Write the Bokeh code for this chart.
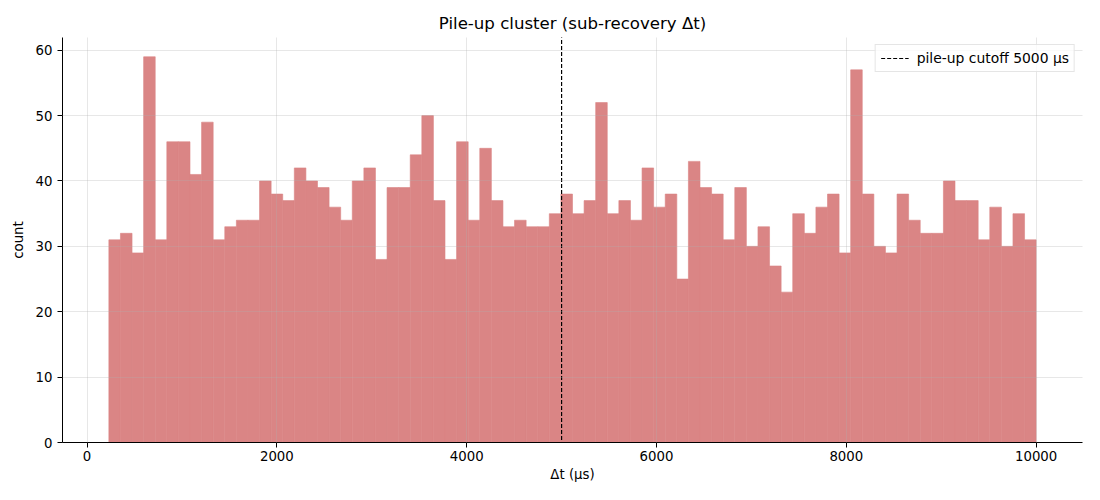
import numpy as np
from bokeh.plotting import figure
from bokeh.models import Range1d, Legend, LegendItem, FixedTicker
from bokeh.embed import file_html
from bokeh.resources import INLINE

# ---- data ----
bin_start = 230.0
bin_end = 10000.0
counts = [31, 32, 29, 59, 31, 46, 46, 41, 49, 31,
          33, 34, 34, 40, 38, 37, 42, 40, 39, 36,
          34, 40, 42, 28, 39, 39, 44, 50, 37, 28,
          46, 34, 45, 37, 33, 34, 33, 33, 35, 38,
          35, 37, 52, 35, 37, 34, 42, 36, 38, 25,
          43, 39, 38, 31, 39, 30, 33, 27, 23, 35,
          32, 36, 38, 29, 57, 38, 30, 29, 38, 34,
          32, 32, 40, 37, 37, 31, 36, 30, 35, 31]
cutoff = 5000
x_ticks = [0, 2000, 4000, 6000, 8000, 10000]
y_ticks = [0, 10, 20, 30, 40, 50, 60]
title = "Pile-up cluster (sub-recovery Δt)"
xlabel = "Δt (µs)"
ylabel = "count"
legend_label = "pile-up cutoff 5000 µs"

BAR_COLOR = "#da8585"  # indianred at 0.75 alpha over white

edges = np.linspace(bin_start, bin_end, len(counts) + 1)
span = bin_end - bin_start
xr = Range1d(bin_start - 0.05 * span, bin_end + 0.05 * span)
yr = Range1d(0, max(counts) * 1.05)

FONT = "DejaVu Sans"

p = figure(width=1084, height=484, x_range=xr, y_range=yr,
           output_backend="svg", toolbar_location=None,
           min_border_left=62, min_border_right=2,
           min_border_top=37, min_border_bottom=42)
p.title.text = title
p.title.text_font = FONT
p.title.text_font_size = "16.6px"
p.title.text_font_style = "normal"
p.title.align = "center"
p.title.text_color = "black"
p.title.offset = -2

p.quad(left=edges[:-1], right=edges[1:], bottom=0, top=counts,
       fill_color=BAR_COLOR, fill_alpha=1.0,
       line_color=BAR_COLOR, line_width=0.6)

vline = p.line([cutoff, cutoff], [-1000, 1000], line_color="black",
               line_width=1.2, line_dash="4 2")

legend = Legend(items=[LegendItem(label=legend_label, renderers=[vline])],
                location="top_right")
legend.label_text_font = FONT
legend.label_text_font_size = "13.9px"
legend.label_text_color = "black"
legend.border_line_color = "#cccccc"
legend.border_line_width = 1
legend.background_fill_alpha = 0.8
legend.glyph_width = 28
legend.glyph_height = 14
legend.padding = 5
legend.spacing = 0
legend.margin = 7
legend.label_standoff = 8
legend.label_height = 14
p.add_layout(legend)

for ax in (p.xaxis, p.yaxis):
    ax.axis_line_color = "black"
    ax.major_tick_line_color = "black"
    ax.major_tick_out = 5
    ax.major_tick_in = 0
    ax.minor_tick_line_color = None
    ax.major_label_text_font = FONT
    ax.major_label_text_font_size = "13.3px"
    ax.major_label_text_color = "black"
    ax.axis_label_text_font = FONT
    ax.axis_label_text_font_size = "13.3px"
    ax.axis_label_text_font_style = "normal"
    ax.axis_label_text_color = "black"

p.xaxis.ticker = FixedTicker(ticks=x_ticks)
p.yaxis.ticker = FixedTicker(ticks=y_ticks)
p.xaxis.axis_label = xlabel
p.yaxis.axis_label = ylabel
p.xaxis.major_label_standoff = 3
p.xaxis.axis_label_standoff = 3
p.yaxis.axis_label_standoff = 7

for g in (p.xgrid, p.ygrid):
    g.grid_line_color = "#b0b0b0"
    g.grid_line_alpha = 0.3
    g.level = "guide"
p.xgrid.ticker = FixedTicker(ticks=x_ticks)
p.ygrid.ticker = FixedTicker(ticks=y_ticks)

p.outline_line_color = None

open("out.html", "w").write(file_html(p, INLINE))
